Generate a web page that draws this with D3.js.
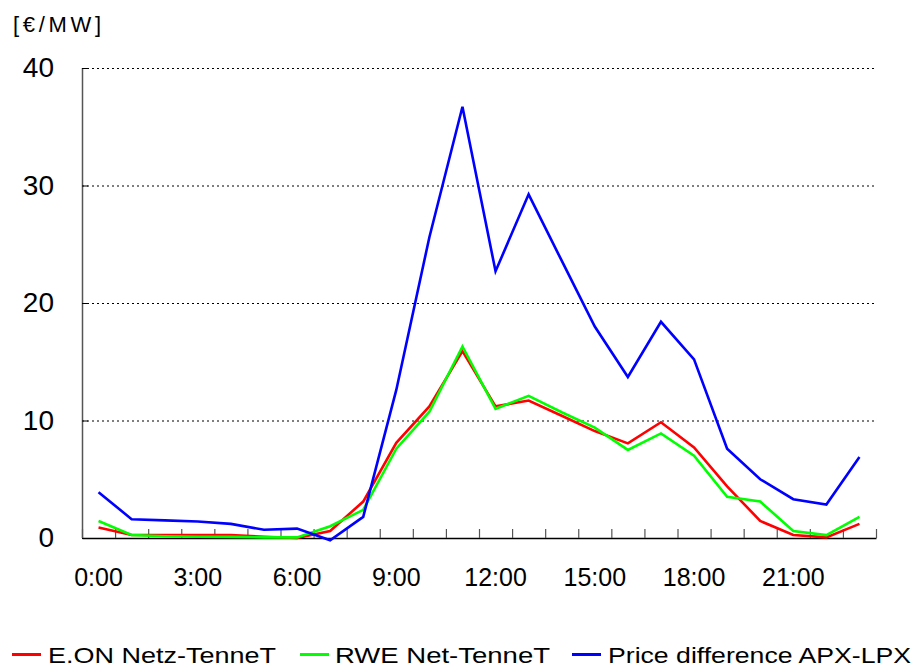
<!DOCTYPE html>
<html>
<head>
<meta charset="utf-8">
<script src="https://cdn.jsdelivr.net/npm/d3@7"></script>
<style>
  body { margin: 0; background: #fff; }
  svg { display: block; font-family: "Liberation Sans", Arial, sans-serif; }
</style>
</head>
<body>
<svg id="chart" width="915" height="668"></svg>
<script>
const hours = ["0:00","1:00","2:00","3:00","4:00","5:00","6:00","7:00","8:00","9:00","10:00","11:00",
               "12:00","13:00","14:00","15:00","16:00","17:00","18:00","19:00","20:00","21:00","22:00","23:00"];
const xTickLabels = ["0:00","3:00","6:00","9:00","12:00","15:00","18:00","21:00"];
const yTicks = [0, 10, 20, 30, 40];

const eonValues   = [0.9, 0.25, 0.25, 0.25, 0.25, 0.1, 0.0, 0.6, 3.1, 8.1, 11.2, 15.9,
                     11.2, 11.7, 10.4, 9.1, 8.05, 9.85, 7.7, 4.4, 1.45, 0.25, 0.05, 1.2];
const rweValues   = [1.45, 0.25, 0.15, 0.1, 0.1, 0.05, 0.05, 1.0, 2.4, 7.6, 10.75, 16.3,
                     11.0, 12.1, 10.7, 9.4, 7.5, 8.9, 7.0, 3.5, 3.1, 0.6, 0.25, 1.8];
const priceValues = [3.9, 1.6, 1.5, 1.4, 1.2, 0.7, 0.8, -0.2, 1.8, 12.6, 25.6, 36.7,
                     22.7, 29.25, 23.6, 18.0, 13.7, 18.4, 15.2, 7.6, 5.0, 3.3, 2.85, 6.9];

const seriesNames  = ["E.ON Netz-TenneT", "RWE Net-TenneT", "Price difference APX-LPX"];
const seriesColors = ["#ff0000", "#00ff00", "#0000ff"];
const seriesData   = [eonValues, rweValues, priceValues];

(function () {
const svg = d3.select("#chart");
const pLeft = 82, pRight = 876, pTop = 68, pBottom = 538;

const x = d3.scaleBand().domain(hours).range([pLeft, pRight]).paddingInner(0).paddingOuter(0);
const y = d3.scaleLinear().domain([0, 40]).range([pBottom, pTop]);

// gridlines
svg.append("g").selectAll("line").data(yTicks.filter(d => d > 0)).join("line")
  .attr("x1", pLeft).attr("x2", pRight)
  .attr("y1", d => y(d) + 0.5).attr("y2", d => y(d) + 0.5)
  .attr("stroke", "#000").attr("stroke-width", 1).attr("stroke-dasharray", "2,3");

// y axis line
svg.append("line").attr("x1", pLeft + 0.5).attr("x2", pLeft + 0.5)
  .attr("y1", pTop).attr("y2", pBottom).attr("stroke", "#555").attr("stroke-width", 1.5);
// y tick stubs
svg.append("g").selectAll("line").data(yTicks).join("line")
  .attr("x1", pLeft).attr("x2", pLeft + 6)
  .attr("y1", d => y(d) + 0.5).attr("y2", d => y(d) + 0.5)
  .attr("stroke", "#000");

// x axis (ticks at band boundaries, pointing inward)
const xb = d3.scaleLinear().domain([0, 24]).range([pLeft, pRight]);
const xAxis = d3.axisBottom(xb).tickValues(d3.range(0, 25)).tickSize(-9).tickFormat("").tickSizeOuter(0);
const gx = svg.append("g").attr("transform", `translate(0,${pBottom})`).call(xAxis);
gx.select(".domain").attr("stroke", "#000").attr("stroke-width", 1.5);
gx.selectAll(".tick line").attr("stroke", "#555").attr("stroke-width", 1.2);

// x tick labels
svg.append("g").selectAll("text").data(xTickLabels).join("text")
  .attr("x", d => x(d) + x.bandwidth() / 2)
  .attr("y", 586)
  .attr("text-anchor", "middle")
  .attr("font-size", 25)
  .attr("fill", "#000")
  .text(d => d);

// y tick labels
svg.append("g").selectAll("text").data(yTicks).join("text")
  .attr("x", 54)
  .attr("y", d => y(d) + 9)
  .attr("text-anchor", "end")
  .attr("font-size", 28)
  .attr("fill", "#000")
  .text(d => d);

// unit label
svg.append("text").attr("x", 13).attr("y", 32).attr("font-size", 22).attr("fill", "#000")
  .attr("textLength", 88).attr("lengthAdjust", "spacing").text("[€/MW]");

// lines
const line = d3.line().x((d, i) => x(hours[i]) + x.bandwidth() / 2).y(d => y(d));
seriesData.forEach((vals, k) => {
  svg.append("path").datum(vals)
    .attr("d", line)
    .attr("fill", "none")
    .attr("stroke", seriesColors[k])
    .attr("stroke-width", 2.6)
    .attr("stroke-linejoin", "miter");
});

// legend
const legendItems = [
  { lx: 12, tx: 48, tw: 228 },
  { lx: 300, tx: 335, tw: 215 },
  { lx: 572, tx: 608, tw: 303 }
];
const lg = svg.append("g");
legendItems.forEach((it, k) => {
  lg.append("line").attr("x1", it.lx).attr("x2", it.lx + 29)
    .attr("y1", 654.5).attr("y2", 654.5)
    .attr("stroke", seriesColors[k]).attr("stroke-width", 3);
  lg.append("text").attr("x", it.tx).attr("y", 663)
    .attr("font-size", 22).attr("fill", "#000")
    .attr("textLength", it.tw).attr("lengthAdjust", "spacingAndGlyphs")
    .text(seriesNames[k]);
});
})();
</script>
</body>
</html>
